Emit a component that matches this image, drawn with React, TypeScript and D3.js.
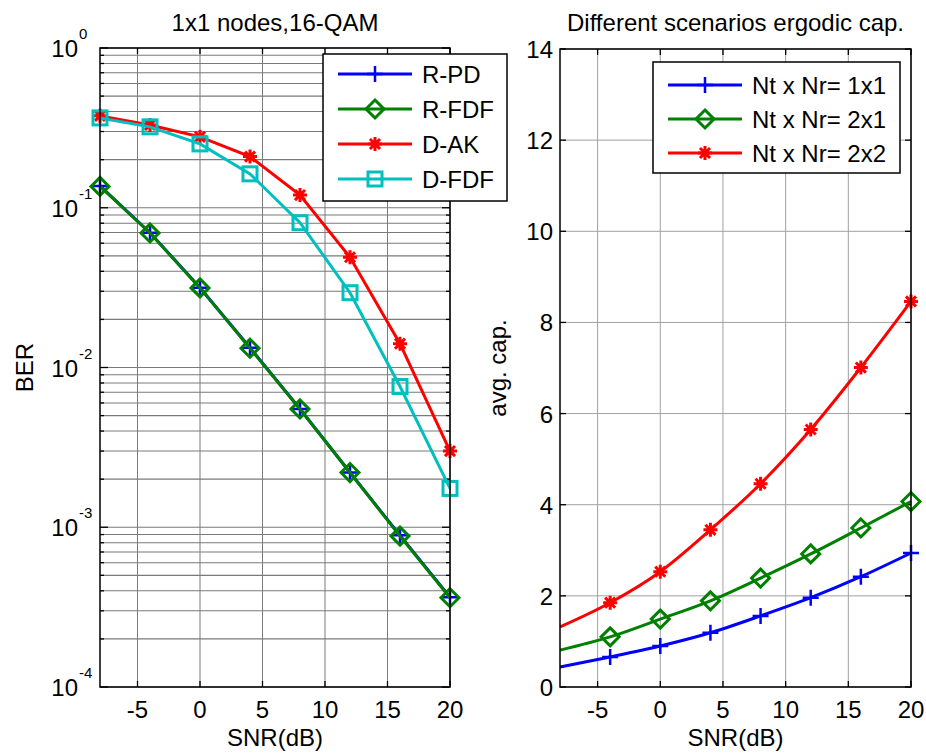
import React from "react";
import * as d3 from "d3";

const snr = [-8, -4, 0, 4, 8, 12, 16, 20];
const berRPD = [0.137, 0.0698, 0.0316, 0.0133, 0.0055, 0.0022, 0.00089, 0.000365];
const berRFDF = [0.136, 0.0695, 0.0315, 0.0132, 0.0055, 0.0022, 0.00088, 0.000362];
const berDAK = [0.376, 0.33, 0.278, 0.209, 0.12, 0.049, 0.0141, 0.0030];
const berDFDF = [0.365, 0.321, 0.251, 0.163, 0.0806, 0.0294, 0.0076, 0.00175];

const cap11 = [0.44, 0.66, 0.9, 1.19, 1.56, 1.96, 2.42, 2.94];
const cap21 = [0.81, 1.1, 1.49, 1.89, 2.39, 2.92, 3.49, 4.07];
const cap22 = [1.32, 1.85, 2.53, 3.45, 4.46, 5.65, 7.01, 8.46];

const xTicks = [-5, 0, 5, 10, 15, 20];
const berExps = [0, -1, -2, -3, -4];
const capTicks = [0, 2, 4, 6, 8, 10, 12, 14];

const leftNames = ["R-PD", "R-FDF", "D-AK", "D-FDF"];
const rightNames = ["Nt x Nr= 1x1", "Nt x Nr= 2x1", "Nt x Nr= 2x2"];

const BLUE = "#0000ff";
const GREEN = "#008000";
const RED = "#ff0000";
const CYAN = "#00bfbf";
const FONT = "'Liberation Sans', Arial, sans-serif";
const FS = 24;

type MK = "plus" | "diamond" | "star" | "square";

function T({
  x,
  y,
  size = FS,
  anchor = "start",
  rotate = 0,
  children,
}: {
  x: number;
  y: number;
  size?: number;
  anchor?: "start" | "middle" | "end";
  rotate?: number;
  children: React.ReactNode;
}) {
  return (
    <text
      transform={`translate(${x},${y})${rotate ? ` rotate(${rotate})` : ""}`}
      textAnchor={anchor}
      fontSize={size}
      fill="#000"
    >
      {children}
    </text>
  );
}

function Marker({ type, x, y, color }: { type: MK; x: number; y: number; color: string }) {
  if (type === "plus") {
    const s = 8;
    return (
      <path d={`M${x - s},${y}H${x + s}M${x},${y - s}V${y + s}`} stroke={color} strokeWidth={2.5} fill="none" />
    );
  }
  if (type === "diamond") {
    const s = 9;
    return (
      <path d={`M${x},${y - s}L${x + s},${y}L${x},${y + s}L${x - s},${y}Z`} stroke={color} strokeWidth={3} fill="none" />
    );
  }
  if (type === "square") {
    const s = 7;
    return <rect x={x - s} y={y - s} width={2 * s} height={2 * s} stroke={color} strokeWidth={3} fill="none" />;
  }
  const s = 7;
  const d = s * 0.72;
  return (
    <path
      d={`M${x - s},${y}H${x + s}M${x},${y - s}V${y + s}M${x - d},${y - d}L${x + d},${y + d}M${x - d},${y + d}L${x + d},${y - d}`}
      stroke={color}
      strokeWidth={3}
      fill="none"
    />
  );
}

export default function App() {
  const W = 926;
  const H = 755;

  const L = { x0: 100, x1: 450, y0: 48, y1: 687 };
  const xL = d3.scaleLinear().domain([-8, 20]).range([L.x0, L.x1]);
  const yL = d3.scaleLog().domain([1e-4, 1]).range([L.y1, L.y0]);

  const R = { x0: 560, x1: 911, y0: 49, y1: 687 };
  const xR = d3.scaleLinear().domain([-8, 20]).range([R.x0, R.x1]);
  const yR = d3.scaleLinear().domain([0, 14]).range([R.y1, R.y0]);

  const minorVals: number[] = [];
  for (let e = -4; e < 0; e++) {
    for (let m = 2; m <= 9; m++) minorVals.push(m * Math.pow(10, e));
  }

  const lineL = d3
    .line<number>()
    .x((_, i) => xL(snr[i]))
    .y((v) => yL(v));
  const lineR = d3
    .line<number>()
    .x((_, i) => xR(snr[i]))
    .y((v) => yR(v))
    .curve(d3.curveMonotoneX);

  const leftSeries: { name: string; data: number[]; color: string; mk: MK }[] = [
    { name: leftNames[0], data: berRPD, color: BLUE, mk: "plus" },
    { name: leftNames[1], data: berRFDF, color: GREEN, mk: "diamond" },
    { name: leftNames[2], data: berDAK, color: RED, mk: "star" },
    { name: leftNames[3], data: berDFDF, color: CYAN, mk: "square" },
  ];
  const rightSeries: { name: string; data: number[]; color: string; mk: MK }[] = [
    { name: rightNames[0], data: cap11, color: BLUE, mk: "plus" },
    { name: rightNames[1], data: cap21, color: GREEN, mk: "diamond" },
    { name: rightNames[2], data: cap22, color: RED, mk: "star" },
  ];

  const gridL = "#7a7a7a";
  const gridR = "#a0a0a0";
  const majT = 6;
  const minT = 4;

  return (
    <svg
      width={W}
      height={H}
      style={{ display: "block", position: "absolute", left: 0, top: 0, background: "#fff" }}
      fontFamily={FONT}
    >
      <rect x={0} y={0} width={W} height={H} fill="#fff" />
      {/* ===== LEFT PLOT ===== */}
      <g>
        {xTicks.map((t) => (
          <line key={"lgx" + t} x1={xL(t)} x2={xL(t)} y1={L.y0} y2={L.y1} stroke={gridL} strokeWidth={1} />
        ))}
        {minorVals.map((v, i) => (
          <line key={"lgm" + i} x1={L.x0} x2={L.x1} y1={yL(v)} y2={yL(v)} stroke={gridL} strokeWidth={1.1} />
        ))}
        {berExps.map((e) => (
          <line key={"lgy" + e} x1={L.x0} x2={L.x1} y1={yL(Math.pow(10, e))} y2={yL(Math.pow(10, e))} stroke={gridL} strokeWidth={1.1} />
        ))}
        {xTicks.map((t) => (
          <g key={"ltx" + t}>
            <line x1={xL(t)} x2={xL(t)} y1={L.y1} y2={L.y1 - majT} stroke="#000" strokeWidth={1.3} />
            <line x1={xL(t)} x2={xL(t)} y1={L.y0} y2={L.y0 + majT} stroke="#000" strokeWidth={1.3} />
            <T x={xL(t)} y={L.y1 + 31} anchor="middle">
              {t}
            </T>
          </g>
        ))}
        {minorVals.map((v, i) => (
          <g key={"ltm" + i}>
            <line x1={L.x0} x2={L.x0 + minT} y1={yL(v)} y2={yL(v)} stroke="#000" strokeWidth={1.3} />
            <line x1={L.x1} x2={L.x1 - minT} y1={yL(v)} y2={yL(v)} stroke="#000" strokeWidth={1.3} />
          </g>
        ))}
        {berExps.map((e) => (
          <g key={"lty" + e}>
            <line x1={L.x0} x2={L.x0 + majT + 2} y1={yL(Math.pow(10, e))} y2={yL(Math.pow(10, e))} stroke="#000" strokeWidth={1.3} />
            <line x1={L.x1} x2={L.x1 - majT - 2} y1={yL(Math.pow(10, e))} y2={yL(Math.pow(10, e))} stroke="#000" strokeWidth={1.3} />
            <T x={78} y={yL(Math.pow(10, e)) + 9} anchor="end">
              10
            </T>
            <T x={79} y={yL(Math.pow(10, e)) - 9} anchor="start" size={15}>
              {e}
            </T>
          </g>
        ))}
        {leftSeries.map((s) => (
          <g key={"ls" + s.name}>
            <path d={lineL(s.data) || ""} stroke={s.color} strokeWidth={3} fill="none" />
            {s.data.map((v, i) => (
              <Marker key={i} type={s.mk} x={xL(snr[i])} y={yL(v)} color={s.color} />
            ))}
          </g>
        ))}
        <rect x={L.x0} y={L.y0} width={L.x1 - L.x0} height={L.y1 - L.y0} fill="none" stroke="#000" strokeWidth={1.5} />
        <rect x={323} y={54} width={184} height={147} fill="#fff" stroke="#000" strokeWidth={1.5} />
        {leftSeries.map((s, i) => {
          const yy = 74 + i * 35;
          return (
            <g key={"ll" + s.name}>
              <line x1={338} x2={412} y1={yy} y2={yy} stroke={s.color} strokeWidth={3} />
              <Marker type={s.mk} x={375} y={yy} color={s.color} />
              <T x={422} y={yy + 9}>
                {s.name}
              </T>
            </g>
          );
        })}
        <T x={(L.x0 + L.x1) / 2} y={31} anchor="middle">
          1x1 nodes,16-QAM
        </T>
        <T x={(L.x0 + L.x1) / 2} y={746} anchor="middle">
          SNR(dB)
        </T>
        <T x={33} y={(L.y0 + L.y1) / 2} anchor="middle" rotate={-90}>
          BER
        </T>
      </g>

      {/* ===== RIGHT PLOT ===== */}
      <g>
        {xTicks.map((t) => (
          <line key={"rgx" + t} x1={xR(t)} x2={xR(t)} y1={R.y0} y2={R.y1} stroke={gridR} strokeWidth={1} />
        ))}
        {capTicks.map((t) => (
          <line key={"rgy" + t} x1={R.x0} x2={R.x1} y1={yR(t)} y2={yR(t)} stroke={gridR} strokeWidth={1} />
        ))}
        {xTicks.map((t) => (
          <g key={"rtx" + t}>
            <line x1={xR(t)} x2={xR(t)} y1={R.y1} y2={R.y1 - majT} stroke="#000" strokeWidth={1.3} />
            <line x1={xR(t)} x2={xR(t)} y1={R.y0} y2={R.y0 + majT} stroke="#000" strokeWidth={1.3} />
            <T x={xR(t)} y={R.y1 + 31} anchor="middle">
              {t}
            </T>
          </g>
        ))}
        {capTicks.map((t) => (
          <g key={"rty" + t}>
            <line x1={R.x0} x2={R.x0 + majT} y1={yR(t)} y2={yR(t)} stroke="#000" strokeWidth={1.3} />
            <line x1={R.x1} x2={R.x1 - majT} y1={yR(t)} y2={yR(t)} stroke="#000" strokeWidth={1.3} />
            <T x={R.x0 - 7} y={yR(t) + 9} anchor="end">
              {t}
            </T>
          </g>
        ))}
        {rightSeries.map((s) => (
          <g key={"rs" + s.name}>
            <path d={lineR(s.data) || ""} stroke={s.color} strokeWidth={3} fill="none" />
            {s.data.map((v, i) =>
              snr[i] >= -4 ? <Marker key={i} type={s.mk} x={xR(snr[i])} y={yR(v)} color={s.color} /> : null
            )}
          </g>
        ))}
        <rect x={R.x0} y={R.y0} width={R.x1 - R.x0} height={R.y1 - R.y0} fill="none" stroke="#000" strokeWidth={1.5} />
        <rect x={653} y={62} width={247} height={111} fill="#fff" stroke="#000" strokeWidth={1.5} />
        {rightSeries.map((s, i) => {
          const yy = 85 + i * 34;
          return (
            <g key={"rl" + s.name}>
              <line x1={668} x2={742} y1={yy} y2={yy} stroke={s.color} strokeWidth={3} />
              <Marker type={s.mk} x={705} y={yy} color={s.color} />
              <T x={752} y={yy + 9}>
                {s.name}
              </T>
            </g>
          );
        })}
        <T x={(R.x0 + R.x1) / 2} y={31} anchor="middle">
          Different scenarios ergodic cap.
        </T>
        <T x={(R.x0 + R.x1) / 2} y={746} anchor="middle">
          SNR(dB)
        </T>
        <T x={506} y={(R.y0 + R.y1) / 2} anchor="middle" rotate={-90}>
          avg. cap.
        </T>
      </g>
    </svg>
  );
}
